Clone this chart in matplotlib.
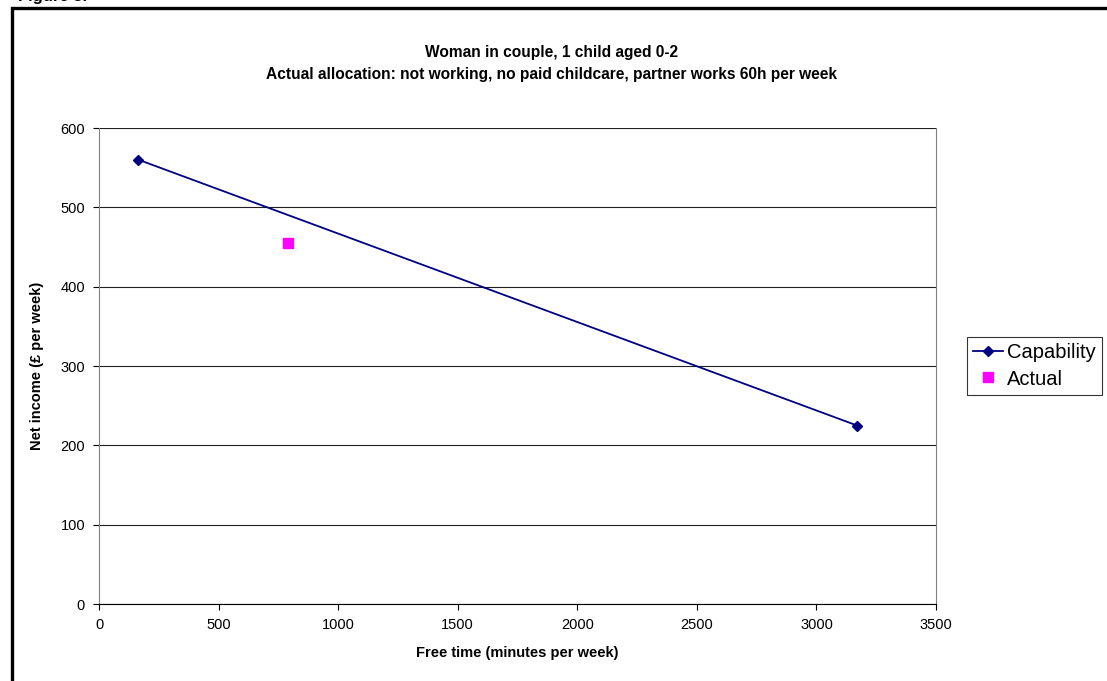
import matplotlib.pyplot as plt
from matplotlib.patches import Rectangle

plt.rcParams['font.family'] = ['Liberation Sans', 'DejaVu Sans']

# data
capability_x = [165, 3170]
capability_y = [560, 225]
actual_x = [790]
actual_y = [455]

x_ticks = [0, 500, 1000, 1500, 2000, 2500, 3000, 3500]
y_ticks = [0, 100, 200, 300, 400, 500, 600]

fig = plt.figure(figsize=(11.07, 6.81), dpi=100)
ax = fig.add_axes([99 / 1107, 1 - 604 / 681, (936 - 99) / 1107, (604 - 128) / 681])

ax.plot(capability_x, capability_y, color='#000080', lw=1.3, marker='D', ms=5.5,
        label='Capability')
ax.plot(actual_x, actual_y, ls='none', color='#ff00ff', marker='s', ms=6.5,
        label='Actual')

ax.set_xlim(0, 3500)
ax.set_ylim(0, 600)
ax.set_xticks(x_ticks)
ax.set_yticks(y_ticks)
ax.tick_params(direction='out', length=4, labelsize=10.5, color='black', pad=6)
ax.yaxis.grid(True, color='#202020', lw=0.8)
ax.set_axisbelow(True)
for s in ['top', 'right', 'left']:
    ax.spines[s].set_color('#808080')
ax.spines['top'].set_visible(False)
ax.spines['bottom'].set_color('black')

ax.set_xlabel('Free time (minutes per week)', fontsize=10.5, fontweight='bold', labelpad=10)
ax.set_ylabel('Net income (£ per week)', fontsize=10.5, fontweight='bold', labelpad=12)

fig.text(0.498, 1 - 53 / 681, 'Woman in couple, 1 child aged 0-2', ha='center', va='center',
         fontsize=11.2, fontweight='bold')
fig.text(0.498, 1 - 75 / 681,
         'Actual allocation: not working, no paid childcare, partner works 60h per week',
         ha='center', va='center', fontsize=11.2, fontweight='bold')

leg = fig.legend(loc='center left', bbox_to_anchor=(967 / 1107, 1 - 366 / 681), fontsize=14.5,
                 frameon=True, fancybox=False, edgecolor='black', borderpad=0.3,
                 handlelength=1.5, handletextpad=0.2, labelspacing=0.35, borderaxespad=0)
leg.get_frame().set_linewidth(0.8)

# outer chart border and caption (cropped in the original)
fig.patches.append(Rectangle((12 / 1107, -0.05), 1.2, 1 - 8 / 681 + 0.05,
                             transform=fig.transFigure, fill=False, ec='black', lw=2.4))
fig.text(18 / 1107, 1 - 1 / 681, 'Figure 3.', fontsize=12, fontweight='bold', va='baseline')

fig.savefig('out.png', dpi=100)
